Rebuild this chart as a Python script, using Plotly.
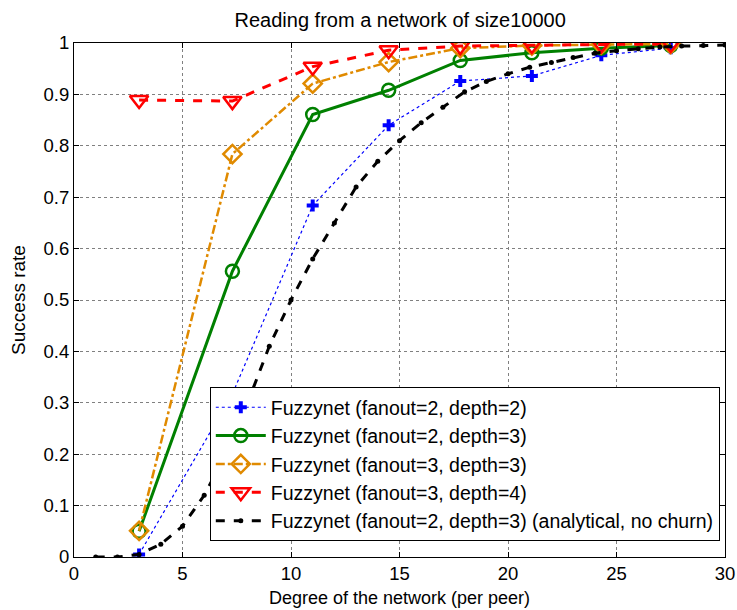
import plotly.graph_objects as go

# Degrees (x) for simulated series
deg = [3, 7.3, 11, 14.5, 17.8, 21.1, 24.3, 27.5]
f2d2 = [0.005, 0.317, 0.684, 0.840, 0.926, 0.936, 0.976, 0.990]
f2d3 = [0.05, 0.556, 0.861, 0.908, 0.966, 0.981, 0.990, 0.995]
f3d3 = [0.051, 0.784, 0.921, 0.963, 0.990, 0.995, 0.997, 0.998]
f3d4 = [0.889, 0.887, 0.954, 0.986, 0.994, 0.996, 0.997, 0.998]

# Analytical curve
deg_an = list(range(1, 31))
an = [0.0, 0.0, 0.005, 0.025, 0.06, 0.12, 0.2, 0.3, 0.41, 0.5,
      0.58, 0.65, 0.72, 0.77, 0.81, 0.845, 0.875, 0.905, 0.925, 0.94,
      0.953, 0.962, 0.972, 0.98, 0.985, 0.989, 0.992, 0.994, 0.995, 0.996]

names = ["Fuzzynet (fanout=2, depth=2)", "Fuzzynet (fanout=2, depth=3)",
         "Fuzzynet (fanout=3, depth=3)", "Fuzzynet (fanout=3, depth=4)",
         "Fuzzynet (fanout=2, depth=3) (analytical, no churn)"]

xticks = [0, 5, 10, 15, 20, 25, 30]
yticks = [0, 0.1, 0.2, 0.3, 0.4, 0.5, 0.6, 0.7, 0.8, 0.9, 1]
yticklabels = ["0", "0.1", "0.2", "0.3", "0.4", "0.5", "0.6", "0.7", "0.8", "0.9", "1"]

fig = go.Figure()
fig.add_trace(go.Scatter(x=deg, y=f2d2, name=names[0], mode="lines+markers",
                         line=dict(color="#0000ff", width=1.2, dash="dot"),
                         marker=dict(symbol="cross", size=10, color="#0000ff")))
fig.add_trace(go.Scatter(x=deg, y=f2d3, name=names[1], mode="lines+markers",
                         line=dict(color="#008000", width=3),
                         marker=dict(symbol="circle-open", size=13, color="#008000",
                                     line=dict(width=2.5, color="#008000"))))
fig.add_trace(go.Scatter(x=deg, y=f3d3, name=names[2], mode="lines+markers",
                         line=dict(color="#e08a00", width=2.5, dash="dashdot"),
                         marker=dict(symbol="diamond-open", size=14, color="#e08a00",
                                     line=dict(width=2.5, color="#e08a00"))))
fig.add_trace(go.Scatter(x=deg, y=f3d4, name=names[3], mode="lines+markers",
                         line=dict(color="#ff0000", width=3, dash="dash"),
                         marker=dict(symbol="triangle-down-open", size=16, color="#ff0000",
                                     line=dict(width=2.5, color="#ff0000"))))
fig.add_trace(go.Scatter(x=deg_an, y=an, name=names[4], mode="lines+markers",
                         line=dict(color="#000000", width=3, dash="dash"),
                         marker=dict(symbol="circle", size=5, color="#000000")))

axis_common = dict(showline=True, linecolor="black", linewidth=1, mirror="ticks",
                   ticks="inside", ticklen=5, tickcolor="black", automargin=False,
                   showgrid=True, gridcolor="#808080", griddash="dot", gridwidth=1,
                   zeroline=False, tickfont=dict(size=18.5, color="black"))

fig.update_layout(
    width=737, height=610,
    margin=dict(l=74, r=12, t=43, b=53),
    paper_bgcolor="white", plot_bgcolor="white",
    font=dict(family="Liberation Sans, Arial, sans-serif", color="black", size=18),
    title=dict(text="Reading from a network of size10000", x=0.543, xanchor="center",
               y=0.967, yanchor="middle", font=dict(size=20)),
    xaxis=dict(range=[0, 30], tickvals=xticks,
               title=dict(text="Degree of the network (per peer)", font=dict(size=18), standoff=8),
               **axis_common),
    yaxis=dict(range=[0, 1], tickvals=yticks, ticktext=yticklabels,
               title=dict(text="Success rate", font=dict(size=19), standoff=12),
               **axis_common),
    legend=dict(x=0.992, y=0.031, xanchor="right", yanchor="bottom",
                bordercolor="black", borderwidth=1, bgcolor="white",
                font=dict(size=19.5), tracegroupgap=0, itemwidth=50),
    showlegend=True,
)

fig.write_html("out.html")
